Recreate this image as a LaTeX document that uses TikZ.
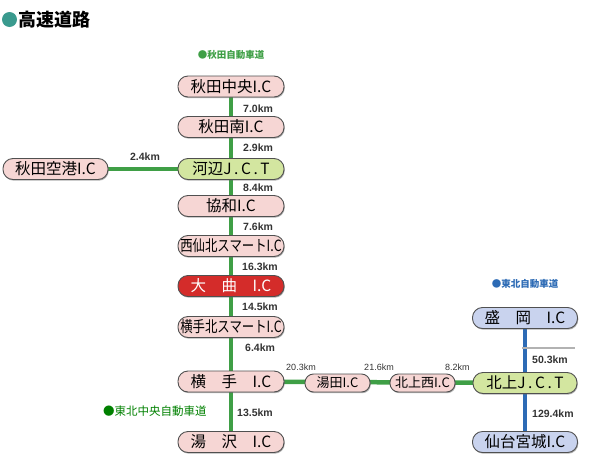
\documentclass[tikz,border=0pt]{standalone}
\usepackage{fontspec}
\setmainfont{Noto Sans CJK JP}
\newfontfamily\latf{Liberation Sans}
\usetikzlibrary{shadows,backgrounds}
\definecolor{pinkfill}{HTML}{F6D6D4}
\definecolor{jctfill}{HTML}{D3E6A0}
\definecolor{redfill}{HTML}{D42C2A}
\definecolor{bluefill}{HTML}{C9D3EE}
\definecolor{boxborder}{HTML}{505050}
\definecolor{roadgreen}{HTML}{3F9F46}
\definecolor{roadblue}{HTML}{2D6BB5}
\definecolor{titleteal}{HTML}{3A9A8E}
\definecolor{kmgray}{HTML}{333333}
\tikzset{
  icbox/.style={draw=boxborder, line width=0.9pt, rounded corners=10pt,
    minimum height=21pt, minimum width=106pt, inner sep=0pt, fill=pinkfill,
    font=\fontsize{15.5}{15.5}\selectfont,
    drop shadow={shadow xshift=0.8pt, shadow yshift=-1.2pt, fill=black!60, opacity=0.5}},
  smallbox/.style={icbox, minimum width=65pt, minimum height=18pt, rounded corners=8.5pt,
    font=\fontsize{13}{13}\selectfont},
  jct/.style={fill=jctfill},
  redic/.style={fill=redfill, text=white},
  blueic/.style={fill=bluefill},
  kmlab/.style={font=\latf\bfseries\fontsize{10.5}{10.5}\selectfont, text=kmgray, inner sep=0pt},
  kmsmall/.style={font=\latf\fontsize{9}{9}\selectfont, text=kmgray, inner sep=0pt},
  greenroad/.style={draw=roadgreen, line width=4.5pt},
  blueroad/.style={draw=roadblue, line width=4pt},
  roadname/.style={inner sep=0pt, font=\bfseries\fontsize{9.5}{9.5}\selectfont},
}
\begin{document}
\begin{tikzpicture}[x=1pt,y=-1pt]
\useasboundingbox (0,0) rectangle (600,469);
% title
\fill[titleteal] (9.5,19.5) circle (7.5pt);
\node[anchor=west, inner sep=0pt, font=\bfseries\fontsize{18}{18}\selectfont] (title) at (18,20) {高速道路};
% road names
\node[roadname, text=roadgreen] (akitaexp) at (231,55) {●秋田自動車道};
\node[roadname, text=roadblue] (tohokuexp) at (525,284) {●東北自動車道};
\node[anchor=west, inner sep=0pt, text=green!50!black, font=\fontsize{11.5}{11.5}\selectfont] (tohokuchuo) at (103,411) {●東北中央自動車道};
% nodes
\node[icbox] (akitachuo) at (231,86.5) {秋田中央I.C};
\node[icbox] (akitaminami) at (231,127) {秋田南I.C};
\node[icbox, jct] (kawabe) at (231,169) {河辺J\,.\,C\,.\,T};
\node[icbox, minimum width=105pt] (kuko) at (55.5,169) {秋田空港I.C};
\node[icbox] (kyowa) at (231,206) {協和I.C};
\node[icbox] (nishisenboku) at (231,246) {\scalebox{0.8}[1]{西仙北スマートI.C}};
\node[icbox, redic] (omagari) at (231,286) {大\hspace{1em}曲\hspace{1em}I.C};
\node[icbox] (yokotekita) at (231,327) {\scalebox{0.8}[1]{横手北スマートI.C}};
\node[icbox] (yokote) at (231,381.5) {横\hspace{1em}手\hspace{1em}I.C};
\node[icbox] (yuzawa) at (231,442) {湯\hspace{1em}沢\hspace{1em}I.C};
\node[smallbox] (yuda) at (337.5,383) {湯田I.C};
\node[smallbox] (kitakaminishi) at (422.5,383) {北上西I.C};
\node[icbox, jct, minimum width=104pt] (kitakamijct) at (525,383) {北上J\,.\,C\,.\,T};
\node[icbox, blueic, minimum width=105pt] (morioka) at (525,318) {盛\hspace{1em}岡\hspace{1em}I.C};
\node[icbox, blueic, minimum width=105pt] (sendai) at (525,442) {仙台宮城I.C};
% connectors
\begin{scope}[on background layer]
\draw[greenroad] (akitachuo.center) -- (yuzawa.center);
\draw[greenroad] (kuko.center) -- (kawabe.center);
\draw[greenroad] (yokote.center) -- (kitakamijct.center);
\draw[blueroad] (morioka.center) -- (sendai.center);
\coordinate (gl) at (522,348);
\coordinate (gr) at (575,348);
\draw[gray!60, line width=2pt] (gl) -- (gr);
\end{scope}
% distance labels
\node[kmlab, anchor=west] (d1) at (243,109) {7.0km};
\node[kmlab, anchor=west] (d2) at (243,148) {2.9km};
\node[kmlab, anchor=west] (d3) at (243,188) {8.4km};
\node[kmlab, anchor=west] (d4) at (243,227) {7.6km};
\node[kmlab, anchor=west] (d5) at (242,267) {16.3km};
\node[kmlab, anchor=west] (d6) at (242,307) {14.5km};
\node[kmlab, anchor=west] (d7) at (245,348) {6.4km};
\node[kmlab, anchor=west] (d8) at (237,413) {13.5km};
\node[kmlab] (d9) at (145,157) {2.4km};
\node[kmsmall] (d10) at (301,367) {20.3km};
\node[kmsmall] (d11) at (379,367) {21.6km};
\node[kmsmall, anchor=west] (d12) at (445,367) {8.2km};
\node[kmlab, anchor=west] (d13) at (532,360) {50.3km};
\node[kmlab, anchor=west] (d14) at (532,414) {129.4km};
\end{tikzpicture}
\end{document}
